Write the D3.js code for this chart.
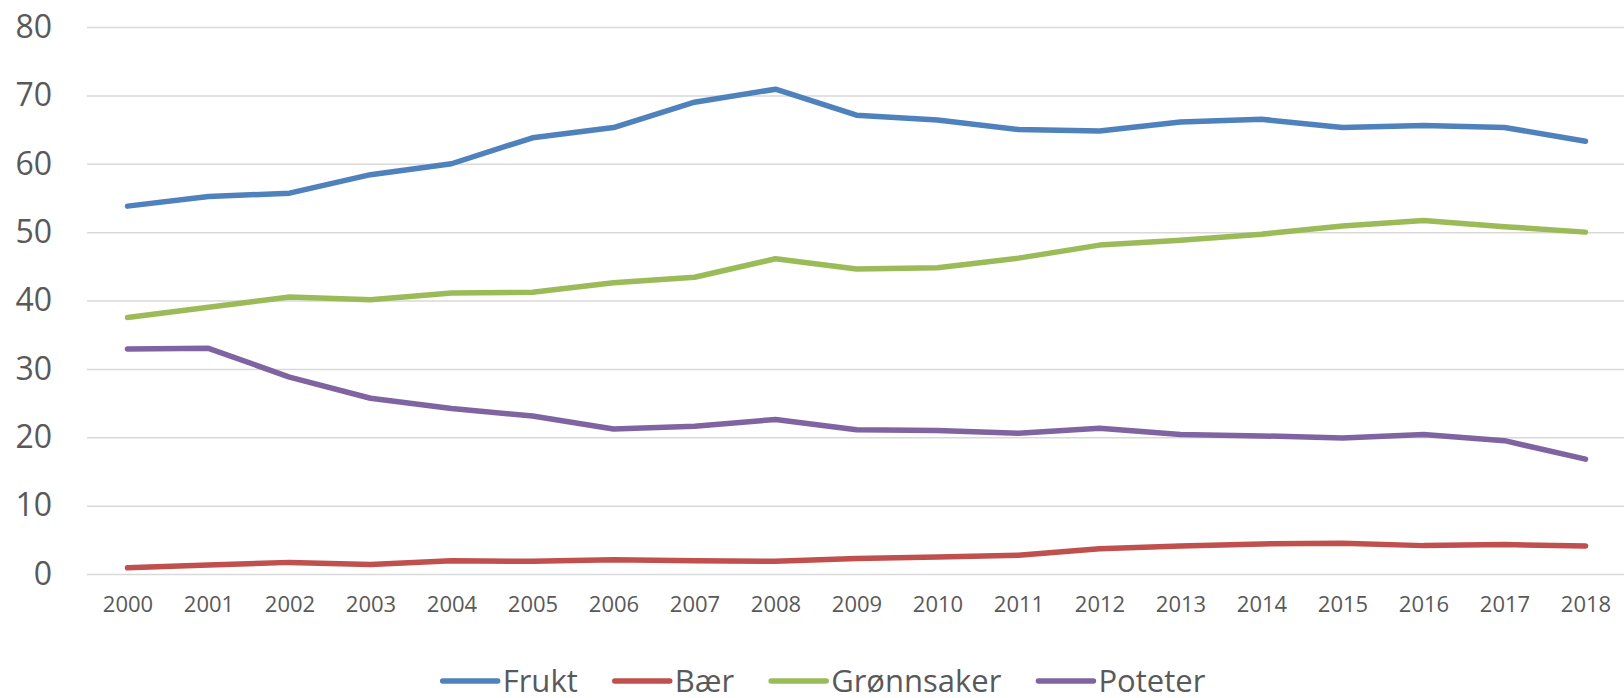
<!DOCTYPE html>
<html>
<head>
<meta charset="utf-8">
<script src="https://cdn.jsdelivr.net/npm/d3@7"></script>
<style>
    body { margin: 0; background: #fff; }
    svg { display: block; font-family: "Open Sans", sans-serif; }
    .grid line { stroke: #d9d9d9; stroke-width: 1.5; }
    .grid .domain { display: none; }
    .axis text { fill: #595959; font-family: "Open Sans", sans-serif; }
    .axis .domain, .axis line { display: none; }
</style>
</head>
<body>
<script>
// data
var years = ["2000", "2001", "2002", "2003", "2004", "2005", "2006", "2007", "2008", "2009",
    "2010", "2011", "2012", "2013", "2014", "2015", "2016", "2017", "2018"];
var frukt = [53.8, 55.2, 55.7, 58.4, 60.0, 63.8, 65.3, 69.0, 70.9, 67.1,
    66.4, 65.0, 64.8, 66.1, 66.5, 65.3, 65.6, 65.3, 63.3];
var baer = [0.9, 1.3, 1.7, 1.4, 1.95, 1.85, 2.1, 1.95, 1.85, 2.25,
    2.5, 2.75, 3.7, 4.1, 4.4, 4.5, 4.15, 4.3, 4.1];
var gronnsaker = [37.5, 39.0, 40.5, 40.1, 41.1, 41.2, 42.6, 43.4, 46.1, 44.6,
    44.8, 46.2, 48.1, 48.8, 49.7, 50.9, 51.7, 50.8, 50.0];
var poteter = [32.9, 33.0, 28.8, 25.7, 24.2, 23.1, 21.2, 21.6, 22.6, 21.1,
    21.0, 20.6, 21.3, 20.4, 20.2, 19.9, 20.4, 19.5, 16.8];
var seriesNames = ["Frukt", "Bær", "Grønnsaker", "Poteter"];
var yTicks = [0, 10, 20, 30, 40, 50, 60, 70, 80];

var series = [frukt, baer, gronnsaker, poteter];
var colors = ["#4f81bd", "#c0504d", "#9bbb59", "#8064a2"];

var W = 1624, H = 698;
var plotLeft = 87, plotRight = 1626, plotTop = 27, plotBottom = 574;

var svg = d3.select("body").append("svg")
    .attr("width", W)
    .attr("height", H);

// scales
var x = d3.scalePoint()
    .domain(years)
    .range([plotLeft, plotRight])
    .padding(0.5);
var y = d3.scaleLinear()
    .domain([0, 80])
    .range([plotBottom, plotTop]);

// gridlines
svg.append("g")
    .attr("class", "grid")
    .attr("transform", "translate(" + plotLeft + ",0)")
    .call(d3.axisRight(y).tickValues(yTicks).tickSize(W - plotLeft).tickFormat(""));

// y axis labels
var yAxis = svg.append("g")
    .attr("class", "axis")
    .attr("transform", "translate(52,0)")
    .call(d3.axisLeft(y).tickValues(yTicks).tickSize(0).tickPadding(0));
yAxis.selectAll("text").style("font-size", "32px");

// x axis labels
var xAxis = svg.append("g")
    .attr("class", "axis")
    .attr("transform", "translate(0,596)")
    .call(d3.axisBottom(x).tickSize(0).tickPadding(0));
xAxis.selectAll("text").style("font-size", "22px");

// lines
var line = d3.line()
    .x(function (d, i) { return x(years[i]); })
    .y(function (d) { return y(d); });

svg.selectAll(".series")
    .data(series)
    .enter().append("path")
    .attr("class", "series")
    .attr("d", line)
    .attr("fill", "none")
    .attr("stroke", function (d, i) { return colors[i]; })
    .attr("stroke-width", 5.5)
    .attr("stroke-linecap", "round")
    .attr("stroke-linejoin", "round");

// legend
var legend = svg.append("g");
var lx = 0;
seriesNames.forEach(function (name, i) {
    var g = legend.append("g").attr("transform", "translate(" + lx + ",0)");
    g.append("line")
        .attr("x1", 0).attr("x2", 55)
        .attr("y1", 0).attr("y2", 0)
        .attr("stroke", colors[i])
        .attr("stroke-width", 5.5)
        .attr("stroke-linecap", "round");
    var t = g.append("text")
        .attr("x", 60)
        .attr("y", 11)
        .attr("fill", "#595959")
        .style("font-size", "31px")
        .text(name);
    lx += 60 + t.node().getComputedTextLength() + 37;
});
lx -= 37;
legend.attr("transform", "translate(" + (824 - lx / 2) + ",681)");
</script>
</body>
</html>
